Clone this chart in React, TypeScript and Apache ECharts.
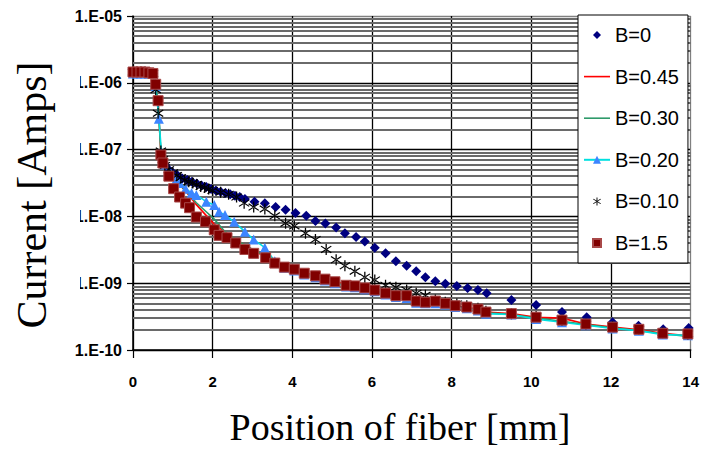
import React, { useEffect, useRef } from 'react';
import * as echarts from 'echarts';

// Fiber position [mm] and measured current [A] for each B setting
const posB0 = [0, 0.1, 0.2, 0.3, 0.4, 0.5, 0.57, 0.63, 0.7, 0.8, 0.9, 1.0, 1.12, 1.24, 1.36, 1.48, 1.6, 1.72, 1.84, 1.96, 2.08, 2.2, 2.32, 2.44, 2.56, 2.68, 2.81, 3.05, 3.31, 3.58, 3.83, 4.08, 4.35, 4.58, 4.83, 5.1, 5.32, 5.6, 5.82, 6.07, 6.34, 6.6, 6.87, 7.11, 7.34, 7.59, 7.84, 8.13, 8.4, 8.66, 8.88, 9.5, 10.12, 10.77, 11.39, 12.04, 12.69, 13.31, 13.95];
const curB0 = [1.45e-6, 1.45e-6, 1.45e-6, 1.45e-6, 1.41e-6, 1.38e-6, 9.5e-7, 5.2e-7, 8.9e-8, 6.0e-8, 5.0e-8, 4.5e-8, 4.1e-8, 3.7e-8, 3.5e-8, 3.3e-8, 3.1e-8, 2.9e-8, 2.75e-8, 2.57e-8, 2.45e-8, 2.34e-8, 2.24e-8, 2.14e-8, 2.04e-8, 1.95e-8, 1.82e-8, 1.66e-8, 1.58e-8, 1.38e-8, 1.26e-8, 1.12e-8, 1.02e-8, 8.5e-9, 7.8e-9, 6.8e-9, 5.6e-9, 4.9e-9, 4.2e-9, 3.4e-9, 2.8e-9, 2.14e-9, 1.82e-9, 1.51e-9, 1.23e-9, 1.07e-9, 9.8e-10, 9.1e-10, 8.5e-10, 7.9e-10, 7.1e-10, 5.6e-10, 4.7e-10, 3.7e-10, 3.1e-10, 2.6e-10, 2.3e-10, 2.04e-10, 2.14e-10];

const posB045 = [0, 0.5, 0.57, 0.63, 0.7, 0.75, 0.9, 1.02, 1.17, 1.32, 1.59, 2.04, 2.58, 3.03, 3.56, 4.05, 4.58, 5.07, 5.57, 6.07, 6.6, 7.11, 7.59, 8.09, 8.66, 8.86, 9.5, 10.12, 10.77, 11.37, 12.04, 12.7, 13.3, 14];
const curB045 = [1.45e-6, 1.38e-6, 9.5e-7, 5.4e-7, 8.5e-8, 6.5e-8, 4.3e-8, 3.5e-8, 2.95e-8, 2.4e-8, 1.5e-8, 7.6e-9, 4.5e-9, 3.1e-9, 2.05e-9, 1.62e-9, 1.29e-9, 1.05e-9, 9.1e-10, 7.9e-10, 6.5e-10, 5.4e-10, 5.4e-10, 4.6e-10, 4.1e-10, 3.7e-10, 3.5e-10, 3.1e-10, 3.0e-10, 2.45e-10, 2.2e-10, 2.0e-10, 1.78e-10, 1.62e-10];

const posB030 = [0, 0.5, 0.57, 0.63, 0.7, 0.75, 0.9, 1.02, 1.17, 1.37, 1.59, 2.04, 2.34, 2.81, 3.3, 3.8, 4.3, 4.82, 5.35, 5.82, 6.34, 6.87, 7.34, 7.84, 8.38, 8.86, 9.5, 10.12, 10.77, 11.37, 12.04, 12.7, 13.3, 14];
const curB030 = [1.42e-6, 1.38e-6, 9.3e-7, 5.3e-7, 8.5e-8, 6.6e-8, 4.4e-8, 3.7e-8, 3.0e-8, 2.24e-8, 1.6e-8, 9.1e-9, 5.6e-9, 3.7e-9, 2.6e-9, 1.8e-9, 1.4e-9, 1.13e-9, 9.2e-10, 8.3e-10, 7.0e-10, 6.2e-10, 5.2e-10, 4.9e-10, 4.3e-10, 3.6e-10, 3.4e-10, 3.0e-10, 2.7e-10, 2.4e-10, 2.15e-10, 1.95e-10, 1.75e-10, 1.58e-10];

const posB020 = [0, 0.1, 0.2, 0.3, 0.4, 0.5, 0.57, 0.65, 0.72, 0.8, 0.95, 1.08, 1.17, 1.32, 1.47, 1.59, 1.84, 2.04, 2.16, 2.31, 2.54, 2.81, 3.03, 3.31, 3.56, 3.8, 4.05, 4.3, 4.58, 4.82, 5.07, 5.35, 5.57, 5.82, 6.07, 6.34, 6.6, 6.87, 7.11, 7.34, 7.59, 7.84, 8.09, 8.38, 8.66, 8.86, 9.5, 10.12, 10.77, 11.37, 12.04, 12.7, 13.3, 13.93];
const curB020 = [1.38e-6, 1.38e-6, 1.38e-6, 1.38e-6, 1.38e-6, 1.35e-6, 8.9e-7, 2.9e-7, 8.3e-8, 6.0e-8, 4.4e-8, 3.5e-8, 3.16e-8, 2.6e-8, 2.24e-8, 2.1e-8, 1.66e-8, 1.48e-8, 1.17e-8, 1.05e-8, 8.3e-9, 5.9e-9, 4.5e-9, 3.4e-9, 2.14e-9, 1.7e-9, 1.55e-9, 1.35e-9, 1.23e-9, 1.1e-9, 1.0e-9, 8.9e-10, 8.7e-10, 8.1e-10, 7.6e-10, 6.8e-10, 6.2e-10, 6.0e-10, 5.1e-10, 5.0e-10, 5.0e-10, 4.8e-10, 4.4e-10, 4.2e-10, 3.9e-10, 3.5e-10, 3.4e-10, 2.9e-10, 2.6e-10, 2.35e-10, 2.1e-10, 1.95e-10, 1.7e-10, 1.66e-10];

const posB010 = [0, 0.1, 0.2, 0.3, 0.4, 0.5, 0.57, 0.63, 0.7, 0.75, 0.8, 0.9, 1.0, 1.1, 1.2, 1.3, 1.4, 1.5, 1.6, 1.7, 1.8, 1.9, 2.0, 2.2, 2.4, 2.6, 2.79, 3.03, 3.31, 3.56, 3.83, 4.05, 4.33, 4.58, 4.85, 5.1, 5.32, 5.57, 5.82, 6.07, 6.34, 6.6, 6.87, 7.11, 7.34, 7.59, 7.84, 8.13, 8.38, 8.66, 8.86, 9.5, 10.12, 10.77, 11.37, 12.04, 12.7, 13.3, 13.93];
const curB010 = [1.45e-6, 1.45e-6, 1.45e-6, 1.45e-6, 1.41e-6, 1.38e-6, 7.9e-7, 3.5e-7, 9.5e-8, 7.1e-8, 5.8e-8, 5.0e-8, 4.5e-8, 4.1e-8, 3.8e-8, 3.5e-8, 3.3e-8, 3.16e-8, 3.0e-8, 2.8e-8, 2.7e-8, 2.57e-8, 2.45e-8, 2.3e-8, 2.14e-8, 1.95e-8, 1.58e-8, 1.38e-8, 1.29e-8, 1.02e-8, 7.9e-9, 7.2e-9, 5.6e-9, 4.5e-9, 3.2e-9, 2.24e-9, 1.82e-9, 1.51e-9, 1.23e-9, 1.12e-9, 9.3e-10, 8.7e-10, 7.9e-10, 7.1e-10, 6.6e-10, 5.6e-10, 5.2e-10, 4.9e-10, 4.6e-10, 4.2e-10, 3.8e-10, 3.5e-10, 3.16e-10, 2.8e-10, 2.45e-10, 2.24e-10, 2.04e-10, 1.82e-10, 1.74e-10];

const posB15 = [0, 0.1, 0.2, 0.3, 0.4, 0.5, 0.57, 0.63, 0.7, 0.75, 0.9, 1.02, 1.17, 1.32, 1.42, 1.59, 1.82, 2.04, 2.16, 2.36, 2.58, 2.81, 3.03, 3.33, 3.56, 3.8, 4.05, 4.3, 4.58, 4.82, 5.07, 5.35, 5.57, 5.82, 6.07, 6.34, 6.6, 6.87, 7.11, 7.34, 7.59, 7.84, 8.09, 8.38, 8.66, 8.86, 9.5, 10.12, 10.77, 11.37, 12.04, 12.7, 13.3, 13.93];
const curB15 = [1.45e-6, 1.45e-6, 1.45e-6, 1.45e-6, 1.41e-6, 1.38e-6, 9.5e-7, 5.4e-7, 8.3e-8, 6.3e-8, 4.0e-8, 2.6e-8, 1.95e-8, 1.58e-8, 1.35e-8, 9.8e-9, 8.3e-9, 6.3e-9, 5.2e-9, 4.8e-9, 4.0e-9, 3.2e-9, 2.8e-9, 2.4e-9, 2.0e-9, 1.74e-9, 1.62e-9, 1.41e-9, 1.29e-9, 1.15e-9, 1.05e-9, 9.3e-10, 9.1e-10, 8.5e-10, 7.9e-10, 7.1e-10, 6.5e-10, 6.5e-10, 5.4e-10, 5.2e-10, 5.4e-10, 5.0e-10, 4.6e-10, 4.4e-10, 4.1e-10, 3.7e-10, 3.5e-10, 3.1e-10, 2.8e-10, 2.45e-10, 2.2e-10, 2.04e-10, 1.78e-10, 1.74e-10];

const seriesNames = ['B=0', 'B=0.45', 'B=0.30', 'B=0.20', 'B=0.10', 'B=1.5'];
const xTickValues = [0, 2, 4, 6, 8, 10, 12, 14];
const decadeExponents = [-10, -9, -8, -7, -6];
const minorMultipliers = [2, 3, 4, 5, 6, 7, 8, 9];

const asteriskPath =
  'path://M9,0H11V20H9Z M2.6,3.2L18.6,15.2L17.4,16.8L1.4,4.8Z M2.6,16.8L18.6,4.8L17.4,3.2L1.4,15.2Z';

const sans = 'Liberation Sans, Arial, sans-serif';
const serifFamily = 'Liberation Serif';

const pairs = (xs: number[], ys: number[]) => xs.map((x, i) => [x, ys[i]]);

// horizontal lines at 2..9 x 10^n inside each decade
const minorGrid = decadeExponents.flatMap((e) =>
  minorMultipliers.map((m) => ({ yAxis: m * Math.pow(10, e) }))
);

const markerSeries = (name: string, data: number[][], symbol: string, size: number, color: string, extra: any = {}) => ({
  name,
  type: 'line',
  data,
  symbol,
  symbolSize: size,
  showSymbol: true,
  lineStyle: { color: 'transparent', width: 0 },
  itemStyle: { color, ...extra },
  z: 3,
});

const lineSeries = (name: string, data: number[][], color: string) => ({
  name,
  type: 'line',
  data,
  symbol: 'none',
  lineStyle: { color, width: 1.6 },
  itemStyle: { color },
  z: 3,
});

const option: any = {
  animation: false,
  backgroundColor: '#fff',
  grid: { left: 133, right: 7, top: 16, bottom: 101 },
  xAxis: {
    type: 'value',
    min: 0,
    max: 14,
    interval: 2,
    axisLine: { lineStyle: { color: '#000', width: 1.5 } },
    axisTick: { inside: false, length: 8, lineStyle: { color: '#000', width: 1.2 } },
    axisLabel: { color: '#000', fontFamily: sans, fontWeight: 'bold', fontSize: 15, margin: 24 },
    splitLine: {
      show: true,
      lineStyle: {
        color: xTickValues.map((v) => (v === 14 ? '#808080' : '#000')),
        width: 1.3,
      },
    },
  },
  yAxis: {
    type: 'log',
    logBase: 10,
    min: 1e-10,
    max: 1e-5,
    axisLine: { show: true, lineStyle: { color: '#000', width: 1.5 } },
    axisTick: { show: true, inside: false, length: 6, lineStyle: { color: '#000', width: 1.2 } },
    axisLabel: {
      color: '#000',
      fontFamily: sans,
      fontWeight: 'bold',
      fontSize: 16,
      margin: 11,
      formatter: (v: number) => {
        const e = Math.round(Math.log10(v));
        return '1.E-' + String(-e).padStart(2, '0');
      },
    },
    splitLine: {
      show: true,
      lineStyle: { color: ['#000', '#000', '#000', '#000', '#000', '#808080'], width: 1.3 },
    },
  },
  legend: {
    orient: 'vertical',
    left: 578,
    top: 15,
    z: 10,
    padding: [10, 9, 10, 5],
    itemGap: 21.6,
    itemWidth: 26,
    itemHeight: 10,
    backgroundColor: '#fff',
    borderColor: '#000',
    borderWidth: 1,
    borderRadius: 0,
    selectedMode: false,
    textStyle: { fontFamily: sans, fontSize: 20, color: '#000', lineHeight: 20 },
    data: seriesNames.map((name) =>
      name === 'B=0.45' || name === 'B=0.30'
        ? { name, icon: 'path://M0,0H26V1.6H0Z' }
        : { name }
    ),
  },
  graphic: [
    // white box behind the vertical title (hides the leading digits of the inner labels)
    { type: 'rect', shape: { x: 0, y: 34, width: 80, height: 300 }, style: { fill: '#fff' }, z: 100 },
    {
      type: 'text',
      x: 32,
      y: 195,
      rotation: Math.PI / 2,
      z: 101,
      style: {
        text: 'Current [Amps]',
        fontFamily: serifFamily,
        fontSize: 42,
        fontWeight: 'normal',
        fill: '#000',
        align: 'center',
        verticalAlign: 'middle',
      },
    },
    {
      type: 'text',
      x: 400,
      y: 427,
      z: 101,
      style: {
        text: 'Position of fiber [mm]',
        fontFamily: serifFamily,
        fontSize: 38,
        fontWeight: 'normal',
        fill: '#000',
        align: 'center',
        verticalAlign: 'middle',
      },
    },
  ],
  series: [
    {
      name: 'grid',
      type: 'line',
      data: [[0, 1e-5]],
      symbol: 'none',
      lineStyle: { color: 'transparent', width: 0 },
      z: 1,
      silent: true,
      markLine: {
        silent: true,
        z: 1,
        precision: 20,
        symbol: ['none', 'none'],
        label: { show: false },
        lineStyle: { color: '#6a6a6a', width: 1.8, type: 'solid' },
        emphasis: { disabled: true },
        data: minorGrid,
        animation: false,
      },
    },
    markerSeries('B=0', pairs(posB0, curB0), 'diamond', 10, '#000080'),
    lineSeries('B=0.45', pairs(posB045, curB045), '#ff0000'),
    lineSeries('B=0.30', pairs(posB030, curB030), '#2e9a6a'),
    {
      name: 'B=0.20',
      type: 'line',
      data: pairs(posB020, curB020),
      symbol: 'triangle',
      symbolSize: 10,
      showSymbol: true,
      lineStyle: { color: '#00e0e0', width: 1.6 },
      itemStyle: { color: '#3d85ff' },
      z: 3,
    },
    markerSeries('B=0.10', pairs(posB010, curB010), asteriskPath, 11, '#000000'),
    markerSeries('B=1.5', pairs(posB15, curB15), 'rect', 10, '#800000', { borderColor: '#a84848', borderWidth: 1 }),
  ],
};

export default function App() {
  const ref = useRef<HTMLDivElement>(null);
  useEffect(() => {
    if (!ref.current) return;
    const chart = echarts.init(ref.current, undefined, { renderer: 'svg' });
    chart.setOption(option);
    return () => chart.dispose();
  }, []);
  return <div ref={ref} style={{ position: 'absolute', left: 0, top: 0, width: 702, height: 451 }} />;
}
